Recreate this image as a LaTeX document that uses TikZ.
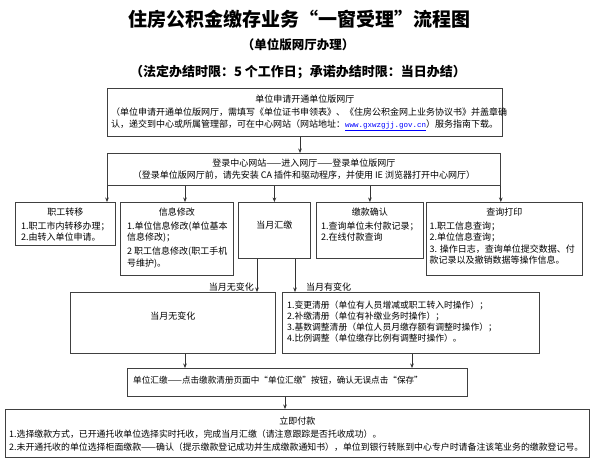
\documentclass[tikz,border=0pt]{standalone}
\usepackage{fontspec}
\setmainfont{Noto Sans CJK SC}
\newfontfamily\urlfont{Liberation Mono}
\usetikzlibrary{arrows.meta}
\begin{document}
\begin{tikzpicture}[x=1pt,y=-1pt,
  box/.style={draw=black!75, line width=0.8pt, anchor=north west, inner sep=0pt},
  txt/.style={inner sep=0pt, anchor=north west, font=\fontsize{9}{11.5}\selectfont, align=left},
  ttl/.style={inner sep=0pt, font=\fontsize{9}{11.5}\selectfont},
  arr/.style={draw=black!80, line width=0.8pt, -{Stealth[length=4.5pt,width=3.6pt]}},
]
\useasboundingbox (0,0) rectangle (599,464);
\fill[white] (0,0) rectangle (599,464);

% titles
\node[inner sep=0pt, font=\fontsize{19}{19}\selectfont\bfseries] (title) at (299,19) {住房公积金缴存业务“一窗受理”流程图};
\node[inner sep=0pt, font=\fontsize{12.5}{12.5}\selectfont\bfseries] (sub) at (298,45) {（单位版网厅办理）};
\node[inner sep=0pt, font=\fontsize{13}{13}\selectfont\bfseries] (limit) at (298,72) {（法定办结时限：5 个工作日；承诺办结时限：当日办结）};

% box 1
\node[box, minimum width=395pt, minimum height=48pt] (b1) at (107,88) {};
\node[ttl] (b1t) at ([yshift=-11pt]b1.north) {单位申请开通单位版网厅};
\node[txt, font=\fontsize{9}{12}\selectfont] (b1b) at ([xshift=4pt,yshift=-19.5pt]b1.north west) {（单位申请开通单位版网厅，需填写《单位证书申领表》、《住房公积金网上业务协议书》并盖章确\\认，递交到中心或所属管理部，可在中心网站（网站地址：{\urlfont\fontsize{7.5}{12}\selectfont\color{blue}\underline{www.gxwzgjj.gov.cn}}）服务指南下载。};

% login box
\node[box, minimum width=393pt, minimum height=32pt] (lg) at (107,153) {};
\node[ttl, align=center, font=\fontsize{9}{12}\selectfont] (lgt) at (lg.center) {登录中心网站——进入网厅——登录单位版网厅\\（登录单位版网厅前，请先安装 CA 插件和驱动程序，并使用 IE 浏览器打开中心网厅）};
\draw[arr] (300,0 |- b1.south) -- (300,0 |- lg.north);

% row boxes
\node[box, minimum width=100pt, minimum height=43pt] (zg) at (15,202) {};
\node[ttl] (zgt) at ([yshift=-10.5pt]zg.north) {职工转移};
\node[txt] (zgb) at ([xshift=6pt,yshift=-19.5pt]zg.north west) {1.职工市内转移办理；\\2.由转入单位申请。};

\node[box, minimum width=113pt, minimum height=73pt] (xx) at (120,202) {};
\node[ttl] (xxt) at ([yshift=-10.5pt]xx.north) {信息修改};
\node[txt] (xxb) at ([xshift=7pt,yshift=-19.5pt]xx.north west) {1.单位信息修改(单位基本\\信息修改)；\\[2.5pt]2 职工信息修改(职工手机\\号维护)。};

\node[box, minimum width=72pt, minimum height=56pt] (dy) at (238,202) {};
\node[ttl] (dyt) at ([yshift=-23pt]dy.north) {当月汇缴};

\node[box, minimum width=107pt, minimum height=56pt] (jk) at (316,202) {};
\node[ttl] (jkt) at ([yshift=-10.5pt]jk.north) {缴款确认};
\node[txt] (jkb) at ([xshift=5pt,yshift=-19.5pt]jk.north west) {1.查询单位未付款记录；\\2.在线付款查询};

\node[box, minimum width=156pt, minimum height=73pt] (cx) at (426,202) {};
\node[ttl] (cxt) at ([yshift=-10.5pt]cx.north) {查询打印};
\node[txt] (cxb) at ([xshift=3.5pt,yshift=-19.5pt]cx.north west) {1.职工信息查询；\\2.单位信息查询；\\3. 操作日志，查询单位提交数据、付\\款记录以及撤销数据等操作信息。};

\draw[arr] (lg.south west) -- (lg.south west |- zg.north);
\draw[arr] (185,0 |- lg.south) -- (185,0 |- xx.north);
\draw[arr] (lg.south -| dy.north) -- (dy.north);
\draw[arr] (lg.south -| jk.north) -- (jk.north);
\draw[arr] (lg.south east) -- (lg.south east |- cx.north);

% change / no change
\node[box, minimum width=205pt, minimum height=61pt] (nc) at (70,292) {};
\node[ttl] (nct) at ([yshift=-24pt]nc.north) {当月无变化};
\node[box, minimum width=257pt, minimum height=61pt] (hc) at (282,292) {};
\node[txt, font=\fontsize{8.8}{11}\selectfont] (hcb) at ([xshift=5pt,yshift=-8.5pt]hc.north west) {1.变更清册（单位有人员增减或职工转入时操作）；\\2.补缴清册（单位有补缴业务时操作）；\\3.基数调整清册（单位人员月缴存额有调整时操作）；\\4.比例调整（单位缴存比例有调整时操作）。};

\draw[arr] (257,0 |- dy.south) -- (257,0 |- nc.north);
\draw[arr] (295,0 |- dy.south) -- (295,0 |- hc.north);
\node[ttl, anchor=east] (lnc) at (254,287) {当月无变化};
\node[ttl, anchor=west] (lhc) at (306,287) {当月有变化};

% unit remittance
\node[box, minimum width=340pt, minimum height=28pt] (hj) at (127,368) {};
\node[ttl, anchor=west, font=\fontsize{8.6}{11}\selectfont] (hjt) at ([xshift=6pt,yshift=2pt]hj.west) {单位汇缴——点击缴款清册页面中“单位汇缴”按钮，确认无误点击“保存”};
\draw[arr] (185,0 |- nc.south) -- (185,0 |- hj.north);
\draw[arr] (412,0 |- hc.south) -- (412,0 |- hj.north);

% pay now
\node[box, minimum width=584pt, minimum height=48pt] (lj) at (5,409) {};
\node[ttl] (ljt) at ([yshift=-12pt]lj.north) {立即付款};
\node[txt, font=\fontsize{8.9}{13}\selectfont] (ljb) at ([xshift=4pt,yshift=-20.5pt]lj.north west) {1.选择缴款方式，已开通托收单位选择实时托收，完成当月汇缴（请注意跟踪是否托收成功）。\\2.未开通托收的单位选择柜面缴款——确认（提示缴款登记成功并生成缴款通知书），单位到银行转账到中心专户时请备注该笔业务的缴款登记号。};
\draw[arr] (285,0 |- hj.south) -- (285,0 |- lj.north);
\end{tikzpicture}
\end{document}
